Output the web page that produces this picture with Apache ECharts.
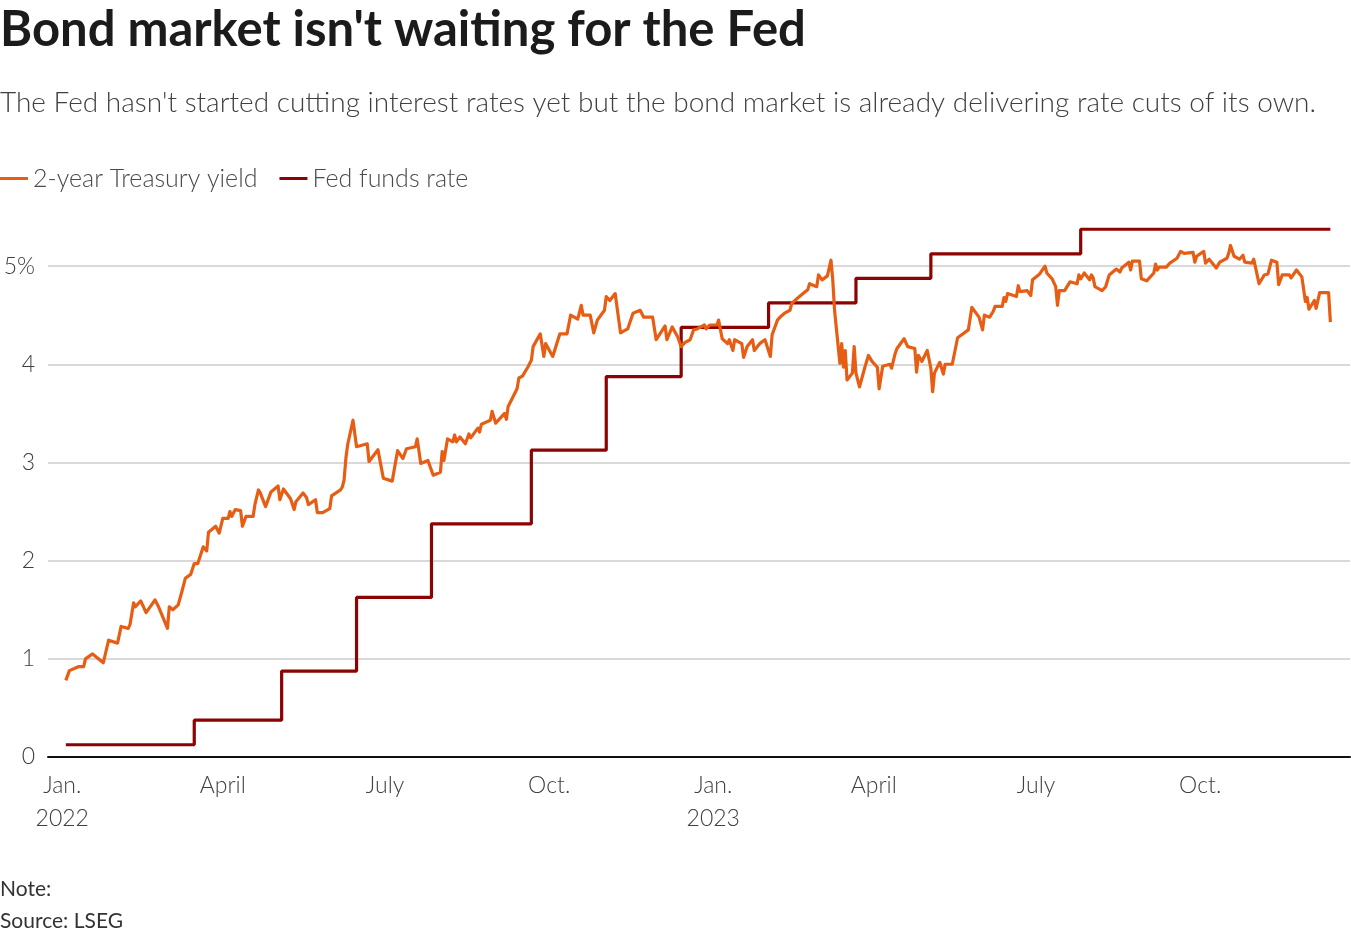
<!DOCTYPE html>
<html>
<head>
<meta charset="utf-8">
<script src="https://cdn.jsdelivr.net/npm/echarts@6/dist/echarts.min.js"></script>
<style>
html,body{margin:0;padding:0;background:#fff;}
#chart{width:1351px;height:934px;}
</style>
</head>
<body>
<div id="chart"></div>
<script>
// 2-year Treasury yield
var yieldDates = [
	'2022-01-03','2022-01-05','2022-01-10','2022-01-13','2022-01-14','2022-01-18','2022-01-24','2022-01-27',
	'2022-02-01','2022-02-03','2022-02-07','2022-02-08','2022-02-10','2022-02-11','2022-02-14','2022-02-17','2022-02-22','2022-02-24',
	'2022-03-01','2022-03-02','2022-03-04','2022-03-07','2022-03-09','2022-03-11','2022-03-14','2022-03-16','2022-03-18','2022-03-21','2022-03-23','2022-03-24','2022-03-28','2022-03-30',
	'2022-04-01','2022-04-04','2022-04-05','2022-04-06','2022-04-08','2022-04-11','2022-04-12','2022-04-14','2022-04-18','2022-04-19','2022-04-21','2022-04-22','2022-04-25','2022-04-28',
	'2022-05-02','2022-05-03','2022-05-05','2022-05-09','2022-05-10','2022-05-11','2022-05-12','2022-05-13','2022-05-16','2022-05-18','2022-05-19','2022-05-23','2022-05-24','2022-05-27','2022-05-31',
	'2022-06-01','2022-06-02','2022-06-06','2022-06-07','2022-06-08','2022-06-09','2022-06-10','2022-06-13','2022-06-15','2022-06-21','2022-06-22','2022-06-27','2022-06-30',
	'2022-07-05','2022-07-08','2022-07-11','2022-07-13','2022-07-18','2022-07-19','2022-07-21','2022-07-25','2022-07-28',
	'2022-08-01','2022-08-02','2022-08-03','2022-08-05','2022-08-08','2022-08-09','2022-08-10','2022-08-12','2022-08-15','2022-08-17','2022-08-18','2022-08-22','2022-08-23','2022-08-24','2022-08-29','2022-08-30',
	'2022-09-01','2022-09-06','2022-09-07','2022-09-08','2022-09-09','2022-09-13','2022-09-14','2022-09-16','2022-09-19','2022-09-21','2022-09-22','2022-09-26','2022-09-28','2022-09-29',
	'2022-10-03','2022-10-07','2022-10-11','2022-10-13','2022-10-17','2022-10-19','2022-10-20','2022-10-24','2022-10-26','2022-10-28',
	'2022-11-01','2022-11-02','2022-11-04','2022-11-07','2022-11-08','2022-11-10','2022-11-14','2022-11-15','2022-11-17','2022-11-21','2022-11-23','2022-11-28','2022-11-30',
	'2022-12-05','2022-12-06','2022-12-09','2022-12-12','2022-12-14','2022-12-16','2022-12-19','2022-12-21','2022-12-23','2022-12-27','2022-12-28','2022-12-30',
	'2023-01-03','2023-01-04','2023-01-06','2023-01-09','2023-01-10','2023-01-12','2023-01-13','2023-01-17','2023-01-18','2023-01-20','2023-01-23','2023-01-24','2023-01-27','2023-01-30',
	'2023-02-02','2023-02-03','2023-02-06','2023-02-08','2023-02-10','2023-02-13','2023-02-14','2023-02-17','2023-02-21','2023-02-23','2023-02-24','2023-02-28',
	'2023-03-01','2023-03-03','2023-03-06','2023-03-08','2023-03-09','2023-03-10','2023-03-13','2023-03-14','2023-03-15','2023-03-16','2023-03-17','2023-03-20','2023-03-21','2023-03-22','2023-03-24','2023-03-27','2023-03-29','2023-03-31',
	'2023-04-03','2023-04-04','2023-04-06','2023-04-10','2023-04-11','2023-04-13','2023-04-14','2023-04-18','2023-04-20','2023-04-24','2023-04-25','2023-04-26','2023-04-28',
	'2023-05-01','2023-05-03','2023-05-04','2023-05-05','2023-05-08','2023-05-10','2023-05-11','2023-05-15','2023-05-18','2023-05-24','2023-05-26','2023-05-30',
	'2023-06-01','2023-06-02','2023-06-05','2023-06-07','2023-06-08','2023-06-12','2023-06-13','2023-06-14','2023-06-15','2023-06-20','2023-06-21','2023-06-22','2023-06-26','2023-06-28','2023-06-29',
	'2023-07-03','2023-07-06','2023-07-07','2023-07-10','2023-07-12','2023-07-13','2023-07-14','2023-07-17','2023-07-18','2023-07-20','2023-07-21','2023-07-24','2023-07-25','2023-07-26','2023-07-28','2023-07-31',
	'2023-08-01','2023-08-02','2023-08-03','2023-08-07','2023-08-09','2023-08-11','2023-08-15','2023-08-17','2023-08-18','2023-08-22','2023-08-23','2023-08-24','2023-08-28','2023-08-29',
	'2023-09-01','2023-09-05','2023-09-06','2023-09-07','2023-09-08','2023-09-12','2023-09-14','2023-09-18','2023-09-20','2023-09-22','2023-09-27','2023-09-28','2023-09-29',
	'2023-10-03','2023-10-04','2023-10-06','2023-10-10','2023-10-12','2023-10-16','2023-10-17','2023-10-18','2023-10-20','2023-10-23','2023-10-25','2023-10-26','2023-10-30','2023-10-31',
	'2023-11-01','2023-11-03','2023-11-06','2023-11-08','2023-11-10','2023-11-13','2023-11-14','2023-11-16','2023-11-17','2023-11-20','2023-11-21','2023-11-24','2023-11-27','2023-11-29','2023-11-30',
	'2023-12-01','2023-12-04','2023-12-05','2023-12-07','2023-12-12','2023-12-13'
];
var yieldValues = [
	0.78,0.88,0.92,0.92,1.00,1.05,0.96,1.19,
	1.16,1.33,1.31,1.35,1.57,1.53,1.59,1.47,1.60,1.53,
	1.31,1.53,1.50,1.55,1.68,1.82,1.86,1.97,1.97,2.14,2.10,2.29,2.35,2.28,
	2.43,2.43,2.50,2.45,2.52,2.51,2.35,2.45,2.45,2.57,2.72,2.69,2.55,2.70,
	2.76,2.62,2.73,2.63,2.62,2.52,2.60,2.59,2.69,2.64,2.57,2.62,2.49,2.49,2.53,
	2.66,2.66,2.72,2.75,2.82,3.04,3.18,3.43,3.16,3.19,3.01,3.13,2.84,
	2.81,3.12,3.04,3.14,3.16,3.24,2.99,3.02,2.87,
	2.90,3.11,3.02,3.24,3.21,3.28,3.21,3.26,3.19,3.29,3.25,3.35,3.31,3.39,3.43,3.52,
	3.40,3.50,3.44,3.57,3.57,3.75,3.86,3.88,3.97,4.04,4.18,4.31,4.08,4.21,
	4.08,4.31,4.31,4.50,4.46,4.60,4.50,4.50,4.32,4.45,
	4.55,4.69,4.65,4.72,4.73,4.32,4.36,4.34,4.52,4.55,4.48,4.48,4.25,
	4.39,4.25,4.38,4.28,4.18,4.22,4.25,4.35,4.36,4.40,4.36,4.40,
	4.40,4.45,4.26,4.21,4.25,4.14,4.25,4.21,4.07,4.18,4.25,4.14,4.21,4.25,
	4.08,4.30,4.45,4.49,4.52,4.55,4.62,4.67,4.73,4.76,4.82,4.79,
	4.91,4.86,4.90,5.06,4.86,4.55,4.01,4.21,3.97,4.14,3.84,3.91,4.18,3.91,3.77,3.97,4.09,4.03,
	3.97,3.75,3.98,4.00,3.96,4.11,4.16,4.26,4.18,4.16,3.92,4.09,4.03,
	4.14,3.96,3.72,3.91,4.02,3.90,4.00,4.00,4.27,4.35,4.58,4.48,
	4.35,4.50,4.48,4.54,4.59,4.59,4.68,4.64,4.72,4.69,4.80,4.74,4.75,4.70,4.86,
	4.92,5.00,4.93,4.87,4.79,4.60,4.75,4.75,4.76,4.84,4.85,4.82,4.91,4.87,4.93,4.86,
	4.91,4.88,4.79,4.75,4.79,4.91,4.97,4.94,4.98,5.04,4.96,5.05,5.05,4.87,
	4.85,4.93,5.02,4.96,4.99,4.99,5.03,5.08,5.15,5.13,5.14,5.04,5.10,
	5.15,5.03,5.07,4.98,5.04,5.08,5.13,5.21,5.10,5.07,5.11,5.04,5.03,5.07,
	4.99,4.82,4.91,4.92,5.06,5.04,4.81,4.91,4.89,4.91,4.88,4.96,4.89,4.64,4.68,
	4.56,4.65,4.57,4.73,4.73,4.43
];

// Fed funds rate (midpoint of target range), value from each date on
var fedDates = ['2022-01-03','2022-03-16','2022-05-04','2022-06-15','2022-07-27','2022-09-21','2022-11-02','2022-12-14',
	'2023-02-01','2023-03-22','2023-05-03','2023-07-26','2023-12-13'];
var fedValues = [0.125,0.375,0.875,1.625,2.375,3.125,3.875,4.375,4.625,4.875,5.125,5.375,5.375];

var xTicks = ['2022-01-01','2022-04-01','2022-07-01','2022-10-01','2023-01-01','2023-04-01','2023-07-01','2023-10-01'];
var monthNames = {0:'Jan.',3:'April',6:'July',9:'Oct.'};
var yTicks = [0,1,2,3,4,5];

var COLOR = {
	YIELD:'#e85d14',
	FED:'#8c0303'
};
var FONT = 'Lato';

function toTime(s){
	var p = s.split('-');
	return new Date(+p[0], p[1]-1, +p[2]).getTime();
}

function pairs(dates, values){
	var out = [];
	for(var i = 0; i < dates.length; i++){
		out.push([toTime(dates[i]), values[i]]);
	}
	return out;
}

var myChart = echarts.init(document.getElementById('chart'), null, {renderer:'canvas'});
myChart.setOption({
	animation:false,
	backgroundColor:'#fff',
	textStyle:{fontFamily:FONT},
	title:[
		{
			text:"Bond market isn't waiting for the Fed",
			left:0, top:2, padding:0,
			textStyle:{fontFamily:FONT, fontSize:49, fontWeight:'bold', color:'#1b1b1b', lineHeight:57}
		},
		{
			text:"The Fed hasn't started cutting interest rates yet but the bond market is already delivering rate cuts of its own.",
			left:0, top:86, padding:0,
			textStyle:{fontFamily:FONT, fontSize:28, fontWeight:300, color:'#404040', lineHeight:34}
		},
		{
			text:'Note:',
			left:0, top:877, padding:0,
			textStyle:{fontFamily:FONT, fontSize:21, fontWeight:'normal', color:'#333', lineHeight:24}
		},
		{
			text:'Source: LSEG',
			left:0, top:909, padding:0,
			textStyle:{fontFamily:FONT, fontSize:21, fontWeight:'normal', color:'#333', lineHeight:24}
		}
	],
	legend:{
		left:0, top:166, padding:0,
		icon:'rect', itemWidth:28, itemHeight:3, itemGap:22,
		textStyle:{fontFamily:FONT, fontSize:25, fontWeight:300, color:'#4a4a4a'},
		data:['2-year Treasury yield','Fed funds rate']
	},
	grid:{left:48, right:1, top:217, bottom:177, containLabel:false, outerBoundsMode:'none'},
	xAxis:{
		type:'value',
		min:toTime('2021-12-24'),
		max:toTime('2023-12-24'),
		axisLine:{show:true, lineStyle:{color:'#111', width:2}},
		axisTick:{show:false},
		splitLine:{show:false},
		axisLabel:{
			customValues:xTicks.map(toTime),
			margin:12,
			fontFamily:FONT, fontSize:23, fontWeight:300, color:'#404040', lineHeight:33,
			align:'center', verticalAlign:'top',
			formatter:function(v){
				var d = new Date(v);
				var s = monthNames[d.getMonth()];
				if(d.getMonth() === 0) s += '\n' + d.getFullYear();
				return s;
			}
		}
	},
	yAxis:{
		type:'value',
		min:0, max:5.5, interval:1,
		axisLine:{show:false},
		axisTick:{show:false, customValues:yTicks},
		splitLine:{show:true, lineStyle:{color:'#cccccc', width:1.5}},
		axisLabel:{
			customValues:yTicks,
			margin:13,
			fontFamily:FONT, fontSize:23, fontWeight:300, color:'#404040',
			formatter:function(v){ return v === 5 ? '5%' : String(v); }
		}
	},
	series:[
		{
			name:'2-year Treasury yield',
			type:'line',
			showSymbol:false,
			symbol:'none',
			color:COLOR.YIELD,
			lineStyle:{color:COLOR.YIELD, width:3.2, join:'round'},
			z:3,
			data:pairs(yieldDates, yieldValues)
		},
		{
			name:'Fed funds rate',
			type:'line',
			step:'end',
			showSymbol:false,
			symbol:'none',
			color:COLOR.FED,
			lineStyle:{color:COLOR.FED, width:3.2},
			z:2,
			data:pairs(fedDates, fedValues)
		}
	]
});
</script>
</body>
</html>
